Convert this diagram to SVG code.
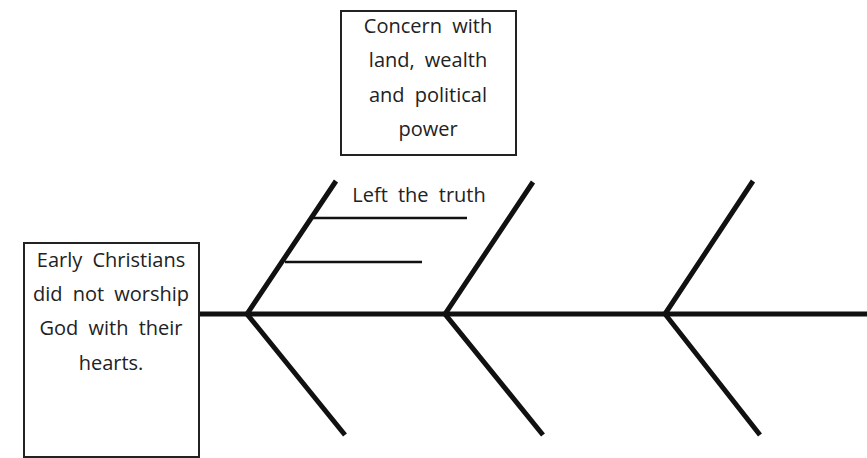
<svg xmlns="http://www.w3.org/2000/svg" width="867" height="458" viewBox="0 0 867 458">
<style>
.box{fill:#fff;stroke:#222;stroke-width:2}
.t{font-family:"Open Sans","DejaVu Sans",sans-serif;font-size:20px;fill:#222;text-anchor:middle;word-spacing:5px}
.bone{stroke:#111;stroke-width:5;fill:none;stroke-linecap:butt;stroke-linejoin:miter}
.sub{stroke:#111;stroke-width:2.5;fill:none}
</style>
<rect width="867" height="458" fill="#fff"/>
<g id="connectors">
<line class="bone" x1="199" y1="314" x2="867" y2="314"/>
<polyline class="bone" points="336,181 247,314 345,435"/>
<polyline class="bone" points="533,182 445,314 543,435"/>
<polyline class="bone" points="753,181 665,314 760,435"/>
<line class="sub" x1="313" y1="218" x2="467" y2="218"/>
<line class="sub" x1="285" y1="262" x2="422" y2="262"/>
</g>
<g id="effect">
<rect class="box" x="24" y="243" width="175" height="214"/>
<text class="t" x="111" y="267">Early Christians</text>
<text class="t" x="111" y="301">did not worship</text>
<text class="t" x="111" y="335">God with their</text>
<text class="t" x="111" y="370">hearts.</text>
</g>
<g id="cause-box">
<rect class="box" x="341" y="11" width="175" height="144"/>
<text class="t" x="428" y="33">Concern with</text>
<text class="t" x="428" y="67">land, wealth</text>
<text class="t" x="428" y="102">and political</text>
<text class="t" x="428" y="136">power</text>
</g>
<g id="label-left-truth">
<text class="t" x="419" y="202">Left the truth</text>
</g>
</svg>
